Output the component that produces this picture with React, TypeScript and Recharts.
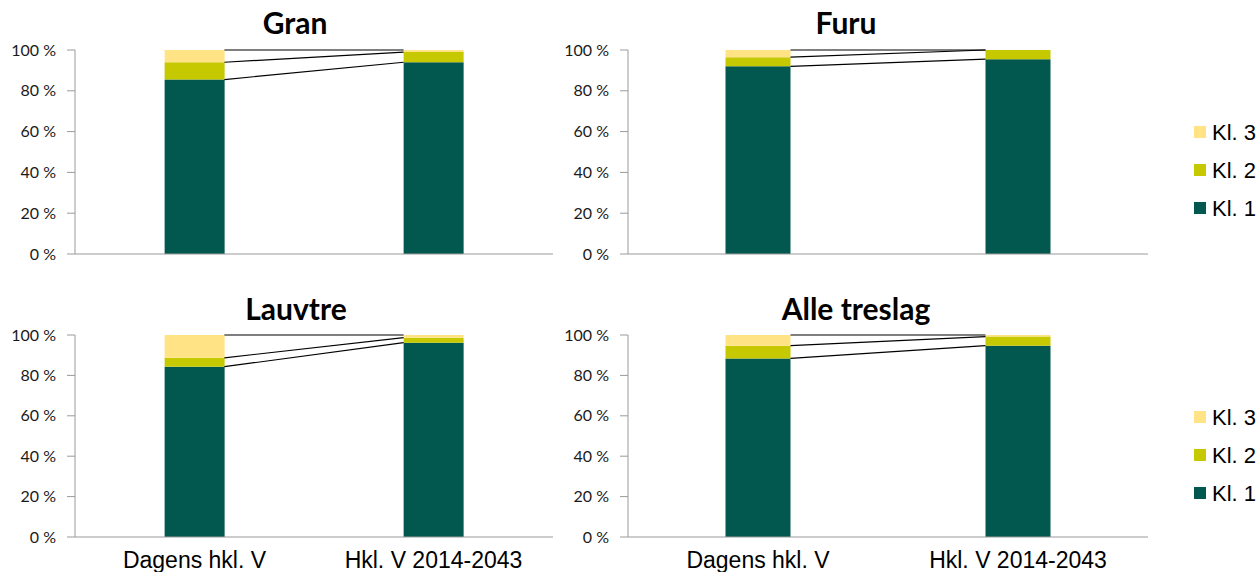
import React from "react";
import { ComposedChart, Bar, Line, XAxis, YAxis } from "recharts";

const categories = ["Dagens hkl. V", "Hkl. V 2014-2043"];
const yTicks = [0, 20, 40, 60, 80, 100];

// share of each class (%) per category
const granKl1 = [85.5, 94];
const granKl2 = [8.5, 5];
const granKl3 = [6, 1];

const furuKl1 = [92, 95.5];
const furuKl2 = [4.5, 4.5];
const furuKl3 = [3.5, 0];

const lauvKl1 = [84.3, 96.2];
const lauvKl2 = [4.4, 2.5];
const lauvKl3 = [11.3, 1.3];

const alleKl1 = [88.4, 94.7];
const alleKl2 = [6.3, 4.5];
const alleKl3 = [5.3, 0.8];

const seriesNames = ["Kl. 1", "Kl. 2", "Kl. 3"];
const colors = ["#02584E", "#C6C800", "#FFE384"];

const GAP = 0.375; // barCategoryGap as fraction of band
const axisGray = "#9A9A9A";

interface PanelProps {
  title: string;
  kl1: number[];
  kl2: number[];
  kl3: number[];
  left: number;
  top: number;
  width: number;
  height: number;
  yAxisWidth: number;
  xAxisHeight: number;
  showCats: boolean;
}

const Panel = (p: PanelProps) => {
  const data = categories.map((c, i) => ({
    name: c,
    kl1: p.kl1[i],
    kl2: p.kl2[i],
    kl3: p.kl3[i],
  }));
  const cum = (i: number) => [
    p.kl1[i],
    p.kl1[i] + p.kl2[i],
    p.kl1[i] + p.kl2[i] + p.kl3[i],
  ];
  const a = cum(0);
  const b = cum(1);
  const connectors = [0, 1, 2].map((k) => [
    { pos: 1 - GAP, v: a[k] },
    { pos: 1 + GAP, v: b[k] },
  ]);

  return (
    <div style={{ position: "absolute", left: p.left, top: p.top }}>
      <ComposedChart
        width={p.width}
        height={p.height}
        data={data}
        margin={{ top: 50, right: p.width - p.yAxisWidth - (p.left === 0 ? 478 : 520), left: 0, bottom: 0 }}
        barCategoryGap={`${GAP * 100}%`}
      >
        <XAxis
          dataKey="name"
          height={p.xAxisHeight}
          stroke={axisGray}
          tickLine={false}
          tickSize={0}
          tickMargin={15}
          tick={
            p.showCats
              ? { fill: "#000", fontSize: 23, fontFamily: "Liberation Sans, Arial, sans-serif" }
              : false
          }
        />
        <XAxis xAxisId="edge" type="number" dataKey="pos" domain={[0, 2]} hide />
        <YAxis
          width={p.yAxisWidth}
          domain={[0, 100]}
          ticks={yTicks}
          interval={0}
          stroke={axisGray}
          tickSize={8}
          tickMargin={11}
          tickFormatter={(v: number) => `${v} %`}
          tick={{ fill: "#1a1a1a", fontSize: 16, fontFamily: "Lato, sans-serif" }}
        />
        <Bar dataKey="kl1" name={seriesNames[0]} stackId="s" fill={colors[0]} isAnimationActive={false} />
        <Bar dataKey="kl2" name={seriesNames[1]} stackId="s" fill={colors[1]} isAnimationActive={false} />
        <Bar dataKey="kl3" name={seriesNames[2]} stackId="s" fill={colors[2]} isAnimationActive={false} />
        {connectors.map((d, k) => (
          <Line
            key={k}
            data={d}
            xAxisId="edge"
            dataKey="v"
            stroke="#000"
            strokeWidth={1.2}
            dot={false}
            activeDot={false}
            legendType="none"
            isAnimationActive={false}
          />
        ))}
      </ComposedChart>
    </div>
  );
};

const titles = [
  { text: "Gran", x: 295, y: 34 },
  { text: "Furu", x: 846, y: 34 },
  { text: "Lauvtre", x: 296, y: 320 },
  { text: "Alle treslag", x: 856, y: 320 },
];

const legendRows = [132, 417];

const App = () => {
  return (
    <div style={{ position: "absolute", left: 0, top: 0, width: 1260, height: 572, background: "#fff", overflow: "hidden" }}>
      <Panel title="Gran" kl1={granKl1} kl2={granKl2} kl3={granKl3} left={0} top={0} width={560} height={280} yAxisWidth={75} xAxisHeight={26} showCats={false} />
      <Panel title="Furu" kl1={furuKl1} kl2={furuKl2} kl3={furuKl3} left={560} top={0} width={600} height={280} yAxisWidth={68} xAxisHeight={26} showCats={false} />
      <Panel title="Lauvtre" kl1={lauvKl1} kl2={lauvKl2} kl3={lauvKl3} left={0} top={285} width={560} height={287} yAxisWidth={75} xAxisHeight={35} showCats={true} />
      <Panel title="Alle treslag" kl1={alleKl1} kl2={alleKl2} kl3={alleKl3} left={560} top={285} width={600} height={287} yAxisWidth={68} xAxisHeight={35} showCats={true} />
      <svg width={1260} height={572} style={{ position: "absolute", left: 0, top: 0, pointerEvents: "none" }}>
        {titles.map((t) => (
          <text key={t.text} x={t.x} y={t.y} textAnchor="middle" fontFamily="Lato, sans-serif" fontWeight="bold" fontSize={30} fill="#000">
            {t.text}
          </text>
        ))}
        {legendRows.map((top) =>
          [2, 1, 0].map((s, j) => (
            <g key={`${top}-${s}`}>
              <rect x={1194} y={top + j * 38 - 6} width={12} height={12} fill={colors[s]} />
              <text x={1212} y={top + j * 38 + 8} fontFamily="Liberation Sans, Arial, sans-serif" fontSize={22} fill="#000">
                {seriesNames[s]}
              </text>
            </g>
          ))
        )}
      </svg>
    </div>
  );
};

export default App;
